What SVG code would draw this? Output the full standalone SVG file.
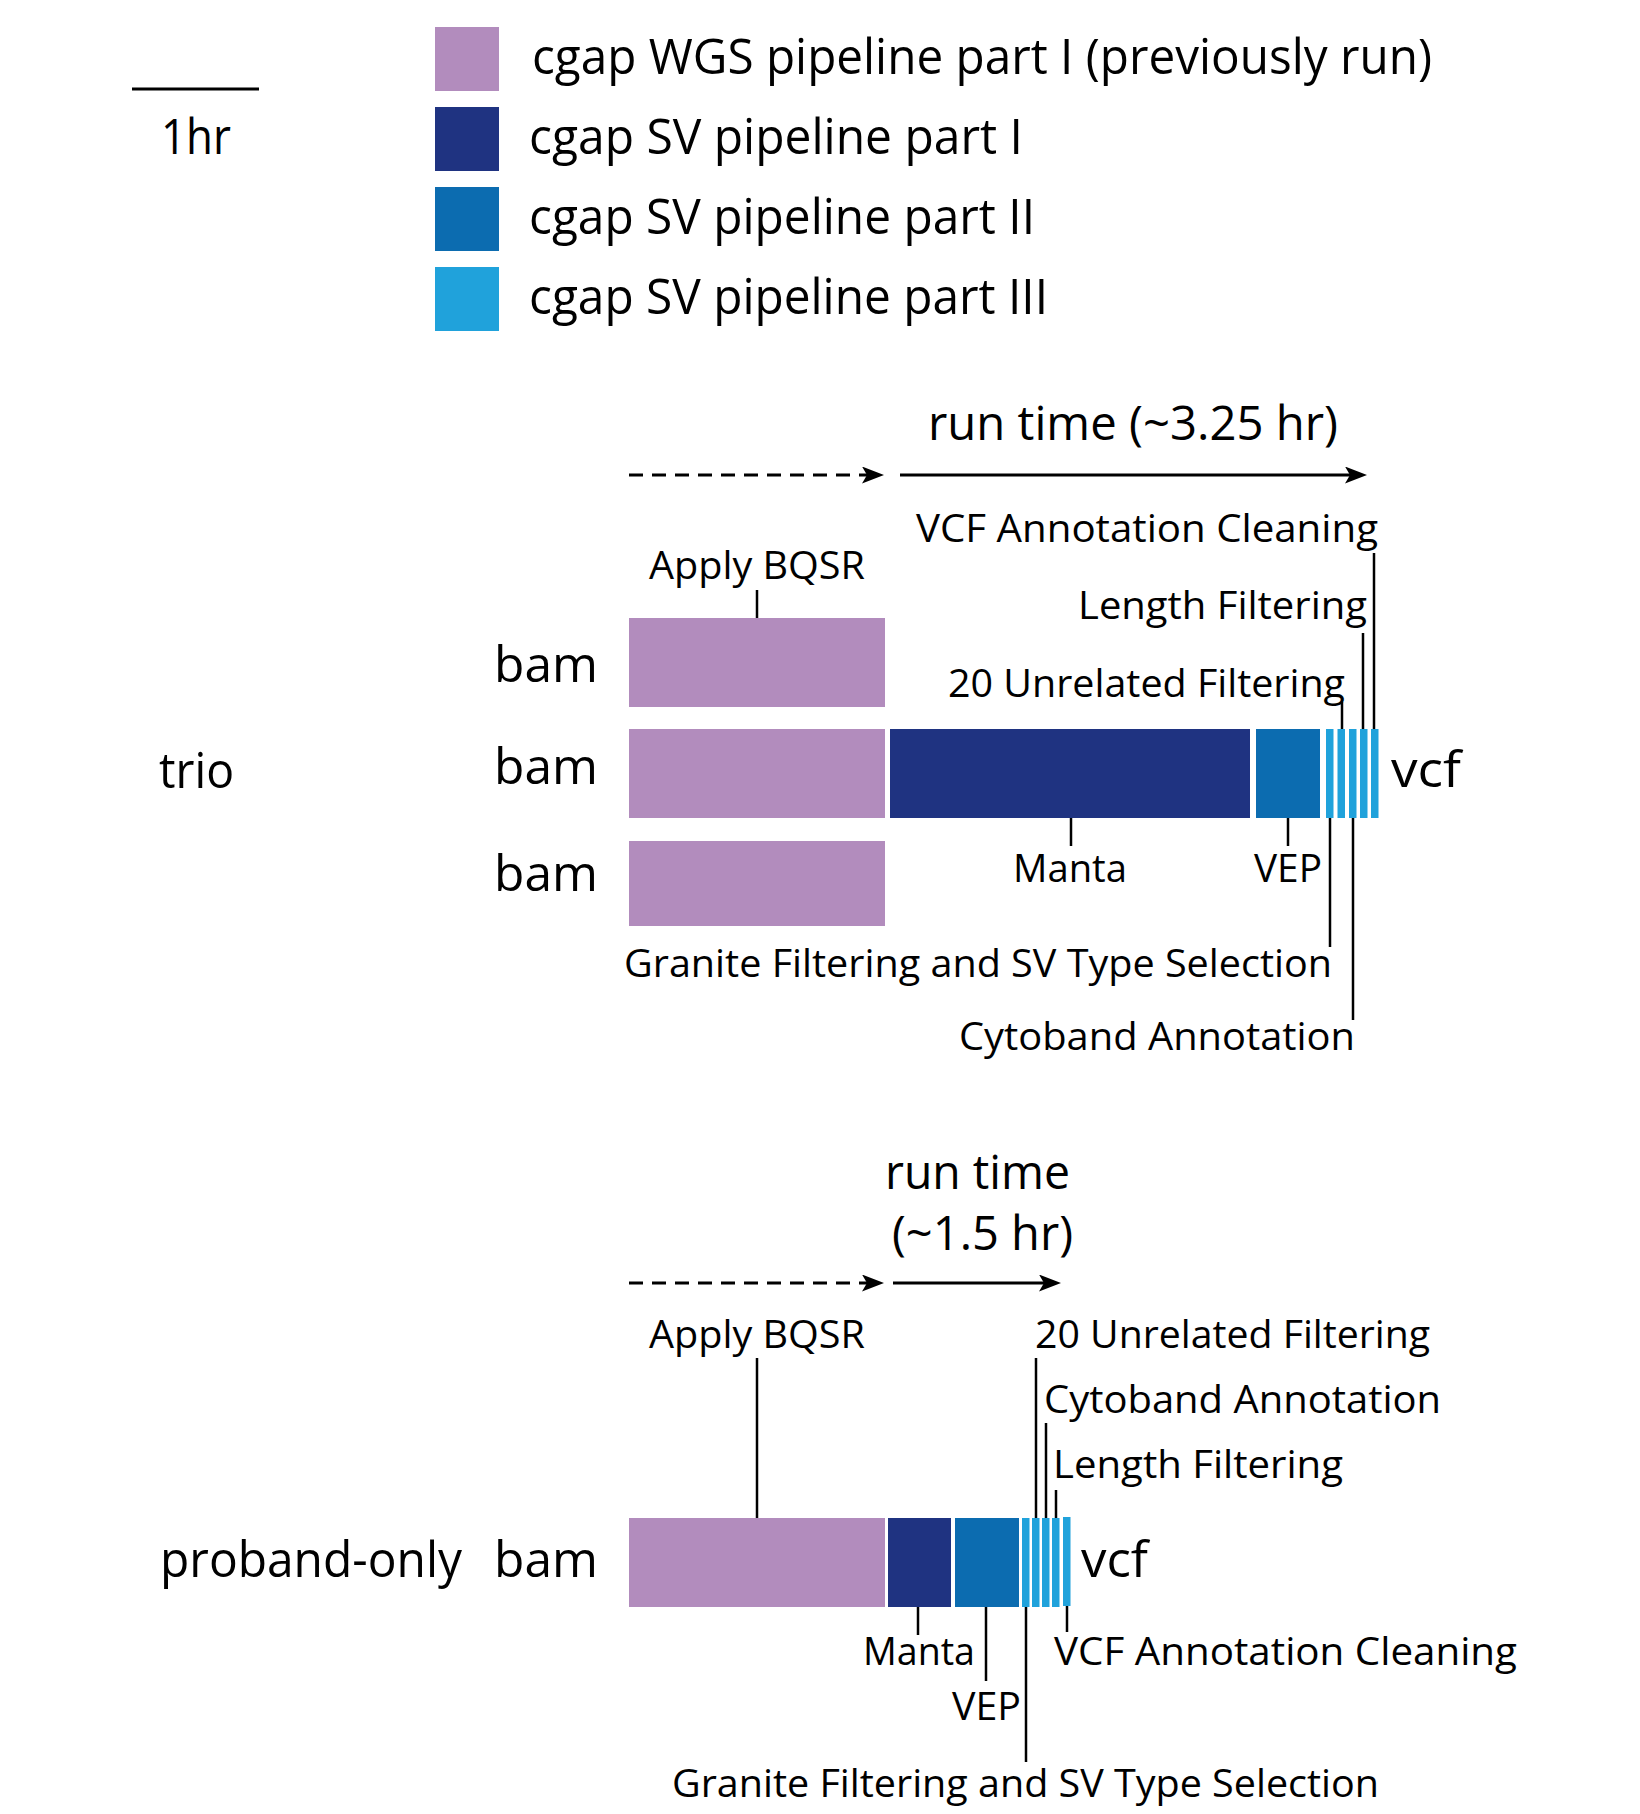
<svg xmlns="http://www.w3.org/2000/svg" width="1640" height="1814" viewBox="0 0 1640 1814">
<style>
text{font-family:"Open Sans","Noto Sans","DejaVu Sans",sans-serif;fill:#000;}
.lg{font-size:49px;}
.big{font-size:50px;}
.rt{font-size:47px;}
.st{font-size:39px;}
.p1{fill:#B28CBD;}
.p2{fill:#1F3381;}
.p3{fill:#0C6CB0;}
.p4{fill:#20A2DB;}
.ld{stroke:#000;stroke-width:2.5;fill:none;}
.ar{stroke:#000;stroke-width:3;fill:none;marker-end:url(#ah);}
.da{stroke-dasharray:14 9;}
</style>
<defs>
<marker id="ah" viewBox="0 0 22 17" refX="8" refY="8.5" markerWidth="22" markerHeight="17" markerUnits="userSpaceOnUse" orient="auto">
<path d="M0,0 L22,8.5 L0,17 L5,8.5 Z" fill="#000"/>
</marker>
</defs>
<rect width="1640" height="1814" fill="#fff"/>

<g id="scale">
<line x1="132" y1="89" x2="259" y2="89" stroke="#000" stroke-width="3"/>
<text class="lg" x="161" y="154" textLength="70" lengthAdjust="spacingAndGlyphs">1hr</text>
</g>

<g id="legend">
<g id="legend-wgs"><rect class="p1" x="435" y="27" width="64" height="64"/><text class="lg" x="532" y="74" textLength="900" lengthAdjust="spacingAndGlyphs">cgap WGS pipeline part I (previously run)</text></g>
<g id="legend-sv1"><rect class="p2" x="435" y="107" width="64" height="64"/><text class="lg" x="529" y="154" textLength="494" lengthAdjust="spacingAndGlyphs">cgap SV pipeline part I</text></g>
<g id="legend-sv2"><rect class="p3" x="435" y="187" width="64" height="64"/><text class="lg" x="529" y="234" textLength="506" lengthAdjust="spacingAndGlyphs">cgap SV pipeline part II</text></g>
<g id="legend-sv3"><rect class="p4" x="435" y="267" width="64" height="64"/><text class="lg" x="529" y="314" textLength="519" lengthAdjust="spacingAndGlyphs">cgap SV pipeline part III</text></g>
</g>

<g id="trio">
<text class="big" x="159" y="788" textLength="75" lengthAdjust="spacingAndGlyphs">trio</text>
<text class="rt" x="928" y="440" textLength="410" lengthAdjust="spacingAndGlyphs">run time (~3.25 hr)</text>
<g id="trio-bam1"><text class="big" x="494" y="682" textLength="104" lengthAdjust="spacingAndGlyphs">bam</text><rect class="p1" x="629" y="618" width="256" height="89"/></g>
<g id="trio-bam2"><text class="big" x="494" y="784" textLength="104" lengthAdjust="spacingAndGlyphs">bam</text><rect class="p1" x="629" y="729" width="256" height="89"/></g>
<g id="trio-bam3"><text class="big" x="494" y="891" textLength="104" lengthAdjust="spacingAndGlyphs">bam</text><rect class="p1" x="629" y="841" width="256" height="85"/></g>
<g id="trio-manta"><rect class="p2" x="890" y="729" width="360" height="89"/></g>
<g id="trio-vep"><rect class="p3" x="1256" y="729" width="64" height="89"/></g>
<g id="trio-granite"><rect class="p4" x="1326" y="729" width="7.5" height="89"/></g>
<g id="trio-unrelated"><rect class="p4" x="1337.5" y="729" width="7.5" height="89"/></g>
<g id="trio-cytoband"><rect class="p4" x="1349" y="729" width="7.5" height="89"/></g>
<g id="trio-length"><rect class="p4" x="1360" y="729" width="7.5" height="89"/></g>
<g id="trio-clean"><rect class="p4" x="1371" y="729" width="7.5" height="89"/></g>
<text class="big" x="1391" y="787" textLength="70" lengthAdjust="spacingAndGlyphs">vcf</text>
<text class="st" x="916" y="542" textLength="462" lengthAdjust="spacingAndGlyphs">VCF Annotation Cleaning</text>
<text class="st" x="649" y="579" textLength="216" lengthAdjust="spacingAndGlyphs">Apply BQSR</text>
<text class="st" x="1078" y="619" textLength="289" lengthAdjust="spacingAndGlyphs">Length Filtering</text>
<text class="st" x="948" y="697" textLength="397" lengthAdjust="spacingAndGlyphs">20 Unrelated Filtering</text>
<text class="st" x="1013" y="882" textLength="114" lengthAdjust="spacingAndGlyphs">Manta</text>
<text class="st" x="1254" y="882" textLength="68" lengthAdjust="spacingAndGlyphs">VEP</text>
<text class="st" x="624" y="977" textLength="708" lengthAdjust="spacingAndGlyphs">Granite Filtering and SV Type Selection</text>
<text class="st" x="959" y="1050" textLength="396" lengthAdjust="spacingAndGlyphs">Cytoband Annotation</text>
</g>

<g id="proband">
<text class="big" x="160" y="1577" textLength="302" lengthAdjust="spacingAndGlyphs">proband-only</text>
<text class="rt" x="885" y="1189" textLength="185" lengthAdjust="spacingAndGlyphs">run time</text>
<text class="rt" x="892" y="1250" textLength="181" lengthAdjust="spacingAndGlyphs">(~1.5 hr)</text>
<g id="pro-bam"><text class="big" x="494" y="1577" textLength="104" lengthAdjust="spacingAndGlyphs">bam</text><rect class="p1" x="629" y="1518" width="256" height="89"/></g>
<g id="pro-manta"><rect class="p2" x="888" y="1518" width="63" height="89"/></g>
<g id="pro-vep"><rect class="p3" x="955" y="1518" width="64" height="89"/></g>
<g id="pro-granite"><rect class="p4" x="1022" y="1518" width="7.5" height="89"/></g>
<g id="pro-unrelated"><rect class="p4" x="1032" y="1518" width="7.5" height="89"/></g>
<g id="pro-cytoband"><rect class="p4" x="1042" y="1518" width="7.5" height="89"/></g>
<g id="pro-length"><rect class="p4" x="1052" y="1518" width="7.5" height="89"/></g>
<g id="pro-clean"><rect class="p4" x="1063" y="1517" width="7.5" height="89"/></g>
<text class="big" x="1081" y="1577" textLength="67" lengthAdjust="spacingAndGlyphs">vcf</text>
<text class="st" x="649" y="1348" textLength="216" lengthAdjust="spacingAndGlyphs">Apply BQSR</text>
<text class="st" x="1035" y="1348" textLength="395" lengthAdjust="spacingAndGlyphs">20 Unrelated Filtering</text>
<text class="st" x="1044" y="1413" textLength="397" lengthAdjust="spacingAndGlyphs">Cytoband Annotation</text>
<text class="st" x="1053" y="1478" textLength="290" lengthAdjust="spacingAndGlyphs">Length Filtering</text>
<text class="st" x="863" y="1665" textLength="112" lengthAdjust="spacingAndGlyphs">Manta</text>
<text class="st" x="1054" y="1665" textLength="463" lengthAdjust="spacingAndGlyphs">VCF Annotation Cleaning</text>
<text class="st" x="952" y="1720" textLength="69" lengthAdjust="spacingAndGlyphs">VEP</text>
<text class="st" x="672" y="1797" textLength="707" lengthAdjust="spacingAndGlyphs">Granite Filtering and SV Type Selection</text>
</g>

<g id="connectors">
<line class="ar da" x1="629" y1="475" x2="870" y2="475"/>
<line class="ar" x1="900" y1="475" x2="1353" y2="475"/>
<line class="ar da" x1="629" y1="1283" x2="870" y2="1283"/>
<line class="ar" x1="893" y1="1283" x2="1047" y2="1283"/>
<line class="ld" x1="757" y1="590" x2="757" y2="618"/>
<line class="ld" x1="1374" y1="553" x2="1374" y2="729"/>
<line class="ld" x1="1363" y1="633" x2="1363" y2="729"/>
<line class="ld" x1="1342" y1="702" x2="1342" y2="729"/>
<line class="ld" x1="1071" y1="818" x2="1071" y2="846"/>
<line class="ld" x1="1288" y1="818" x2="1288" y2="846"/>
<line class="ld" x1="1330" y1="818" x2="1330" y2="947"/>
<line class="ld" x1="1353" y1="818" x2="1353" y2="1020"/>
<line class="ld" x1="757" y1="1358" x2="757" y2="1518"/>
<line class="ld" x1="1036" y1="1358" x2="1036" y2="1518"/>
<line class="ld" x1="1046" y1="1423" x2="1046" y2="1518"/>
<line class="ld" x1="1056" y1="1490" x2="1056" y2="1518"/>
<line class="ld" x1="918" y1="1607" x2="918" y2="1635"/>
<line class="ld" x1="986" y1="1607" x2="986" y2="1681"/>
<line class="ld" x1="1026" y1="1607" x2="1026" y2="1762"/>
<line class="ld" x1="1067" y1="1606" x2="1067" y2="1632"/>
</g>
</svg>
